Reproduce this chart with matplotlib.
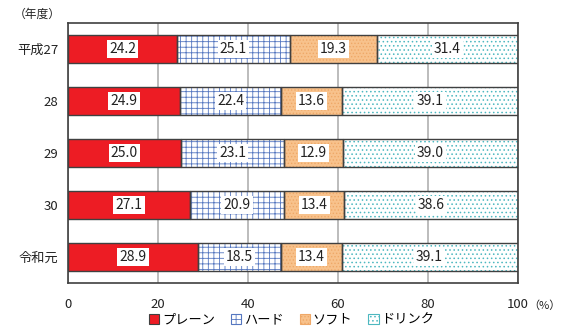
import matplotlib.pyplot as plt
import numpy as np

plt.rcParams['font.family'] = ['Noto Sans CJK JP', 'DejaVu Sans']
plt.rcParams['hatch.linewidth'] = 0.6

years = ['平成27', '28', '29', '30', '令和元']
series = ['プレーン', 'ハード', 'ソフト', 'ドリンク']
plain = [24.2, 24.9, 25.0, 27.1, 28.9]
hard = [25.1, 22.4, 23.1, 20.9, 18.5]
soft = [19.3, 13.6, 12.9, 13.4, 13.4]
drink = [31.4, 39.1, 39.0, 38.6, 39.1]

# face colour, hatch, hatch colour
styles = [
    ('#ED1C24', None, '#ED1C24'),
    ('white', '+++', '#5577C0'),
    ('#F8C28C', '.....', '#EFA868'),
    ('white', '....', '#4DB8C0'),
]

fig = plt.figure(figsize=(5.63, 3.28), dpi=100)
ax = fig.add_axes([0.1208, 0.137, 0.7993, 0.793])

y = np.arange(len(years))
left = np.zeros(len(years))
for vals, (fc, hatch, hc) in zip([plain, hard, soft, drink], styles):
    vals = np.array(vals)
    if hatch:
        ax.barh(y, vals, left=left, height=0.54, color=fc, hatch=hatch,
                edgecolor=hc, linewidth=0, zorder=2)
    else:
        ax.barh(y, vals, left=left, height=0.54, color=fc, linewidth=0, zorder=2)
    ax.barh(y, vals, left=left, height=0.54, facecolor='none',
            edgecolor='#404040', linewidth=1.0, zorder=3)
    for yi, l, v in zip(y, left, vals):
        ax.text(l + v / 2, yi, f'{v:.1f}', ha='center', va='center', fontsize=10,
                color='#222222', zorder=4,
                bbox=dict(boxstyle='square,pad=0.15', fc='white', ec='none'))
    left += vals

ax.set_xlim(0, 100)
ax.set_ylim(len(years) - 0.5, -0.5)
ax.set_xticks([0, 20, 40, 60, 80, 100])
ax.set_yticks(y)
ax.set_yticklabels(years)
ax.tick_params(length=0, labelsize=9.5, colors='#222222')
ax.tick_params(axis='x', pad=11)
ax.tick_params(axis='y', pad=7)
ax.grid(axis='x', color='#B0B0B0', linewidth=1.2, zorder=0)
ax.set_axisbelow(True)
for s in ax.spines.values():
    s.set_color('#404040')
    s.set_linewidth(1.2)

fig.text(0.025, 0.955, '（年度）', fontsize=8.5, color='#222222', va='center')
fig.text(0.9375, 0.068, '（%）', fontsize=8, color='#222222', va='center')

handles = []
for fc, hatch, hc in styles:
    if hatch:
        handles.append(plt.Rectangle((0, 0), 1, 1, facecolor=fc, hatch=hatch,
                                     edgecolor=hc, linewidth=0.8))
    else:
        handles.append(plt.Rectangle((0, 0), 1, 1, facecolor=fc,
                                     edgecolor='#404040', linewidth=0.8))
fig.legend(handles, series, loc='center', bbox_to_anchor=(0.518, 0.025), ncol=4,
           frameon=False, fontsize=9.5, handlelength=0.8, handleheight=0.8,
           handletextpad=0.2, columnspacing=1.2)

fig.savefig('out.png', dpi=100)
